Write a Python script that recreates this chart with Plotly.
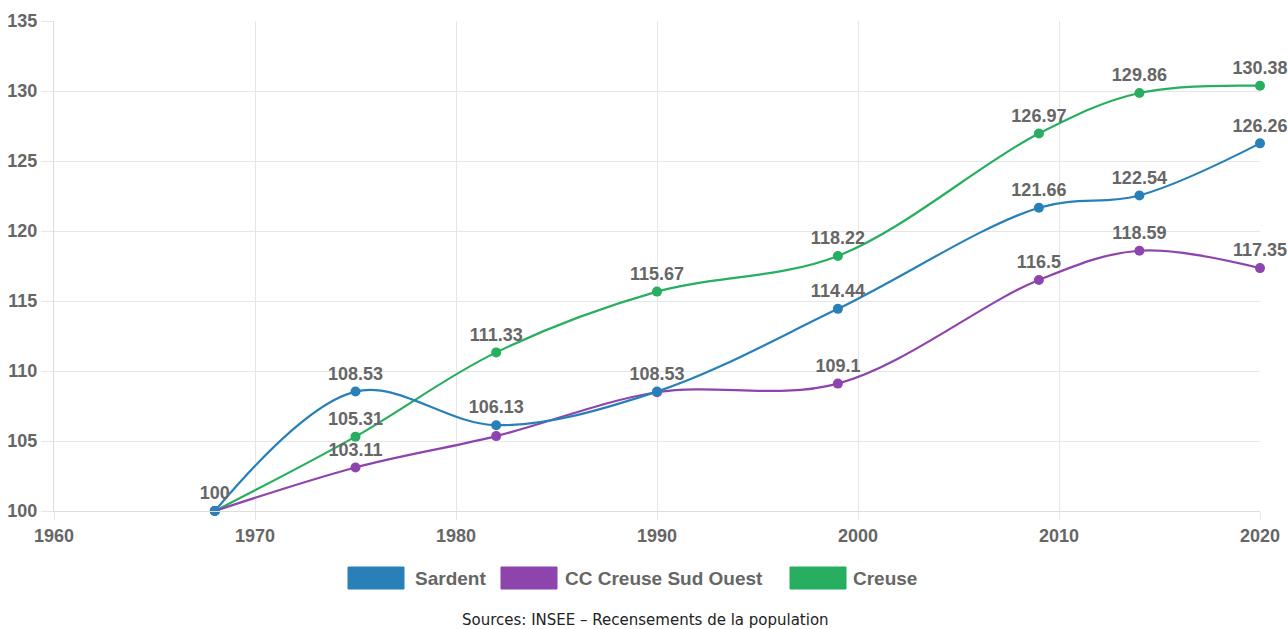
import plotly.graph_objects as go

# Population index (base 100 in 1968)
years = [1968, 1975, 1982, 1990, 1999, 2009, 2014, 2020]
series_names = ["Sardent", "CC Creuse Sud Ouest", "Creuse"]
sardent = [100, 108.53, 106.13, 108.53, 114.44, 121.66, 122.54, 126.26]
cc_creuse_sud_ouest = [100, 103.11, 105.35, 108.48, 109.1, 116.5, 118.59, 117.35]
creuse = [100, 105.31, 111.33, 115.67, 118.22, 126.97, 129.86, 130.38]
# labels that are hidden in the original (overlapping) are left empty
sardent_labels = ["100", "108.53", "106.13", "108.53", "114.44", "121.66", "122.54", "126.26"]
cc_labels = ["", "103.11", "", "", "109.1", "116.5", "118.59", "117.35"]
creuse_labels = ["", "105.31", "111.33", "115.67", "118.22", "126.97", "129.86", "130.38"]
x_ticks = [1960, 1970, 1980, 1990, 2000, 2010, 2020]
y_ticks = [100, 105, 110, 115, 120, 125, 130, 135]
source_text = "Sources: INSEE – Recensements de la population"

colors = ["#2980b9", "#8e44ad", "#27ae60"]
FONT = "Liberation Sans, Arial"
GREY = "#666666"

fig = go.Figure()

# chart.js draws the first dataset on top, so add them in reverse
for name, vals, labels, col in reversed(list(zip(
        series_names,
        [sardent, cc_creuse_sud_ouest, creuse],
        [sardent_labels, cc_labels, creuse_labels],
        colors))):
    fig.add_trace(go.Scatter(
        x=years, y=vals, name=name,
        mode="lines+markers+text",
        line=dict(color=col, width=2.2, shape="spline", smoothing=1),
        marker=dict(color=col, size=10),
        text=labels, textposition="top center",
        textfont=dict(family=FONT, size=18, color=GREY, weight="bold"),
        cliponaxis=False,
        showlegend=False,
        hoverinfo="x+y+name",
    ))

# custom legend with wide coloured boxes
W, H = 1288, 629
ml, mr, mt, mb = 54, 28, 21, 118
pw, ph = W - ml - mr, H - mt - mb


def px_x(x):
    return (x - ml) / pw


def px_y(y):
    return (H - mb - y) / ph


legend_boxes = [(348, 413), (501, 563), (790, 851)]
for (bx, tx), name, col in zip(legend_boxes, series_names, colors):
    fig.add_shape(type="rect", xref="paper", yref="paper",
                  x0=px_x(bx), x1=px_x(bx + 56), y0=px_y(567), y1=px_y(589),
                  fillcolor=col, line=dict(color=col, width=1))
    fig.add_annotation(xref="paper", yref="paper",
                       x=px_x(tx), y=px_y(578),
                       xanchor="left", yanchor="middle", showarrow=False,
                       text="<b>%s</b>" % name,
                       font=dict(family=FONT, size=19, color=GREY))

fig.add_annotation(xref="paper", yref="paper",
                   x=px_x(645), y=px_y(620),
                   xanchor="center", yanchor="middle", showarrow=False,
                   text=source_text,
                   font=dict(family="DejaVu Sans", size=15, color="#222222"))

axis_common = dict(showgrid=True, gridcolor="#e6e6e6", showline=True, linecolor="#dddddd",
                   ticks="outside", tickcolor="#e6e6e6", zeroline=False, automargin=False,
                   tickfont=dict(family=FONT, size=18, color=GREY, weight="bold"))

fig.update_layout(
    width=W, height=H,
    margin=dict(l=ml, r=mr, t=mt, b=mb),
    plot_bgcolor="white", paper_bgcolor="white",
    xaxis=dict(range=[1960, 2020], tickvals=x_ticks, ticklen=8, **axis_common),
    yaxis=dict(range=[100, 135], tickvals=y_ticks, ticklen=12, ticklabelstandoff=0, **axis_common),
)

# remove the default page margin so the figure sits at the window's top-left
fig.write_html("out.html", config={"displayModeBar": False},
               post_script="document.body.style.margin='0';document.body.style.overflow='hidden';")
